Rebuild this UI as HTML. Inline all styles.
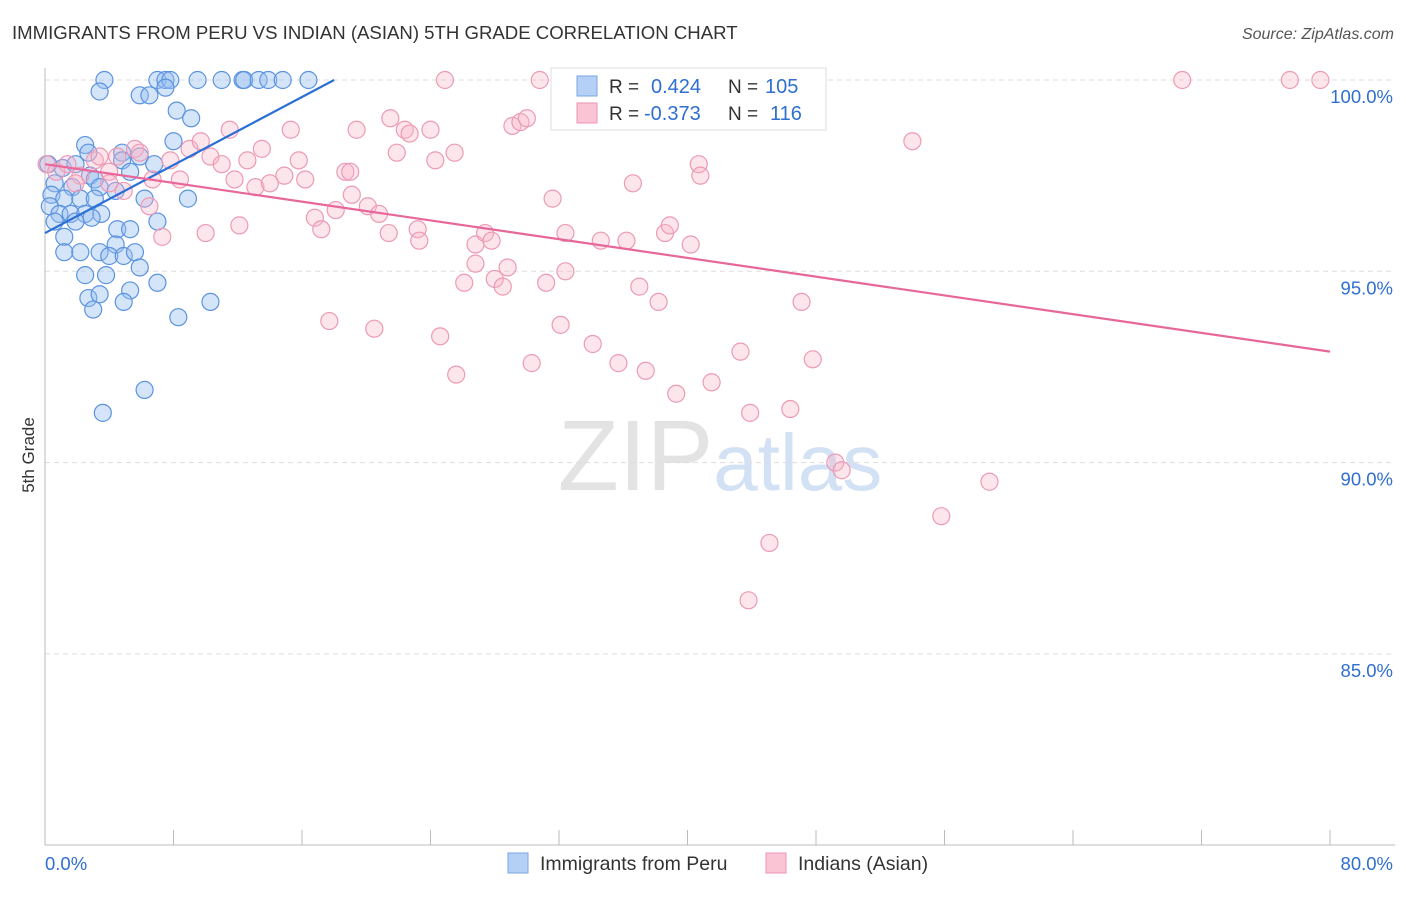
<!DOCTYPE html>
<html><head><meta charset="utf-8"><style>
body{margin:0;background:#fff;font-family:"Liberation Sans",sans-serif;}
svg text{font-family:"Liberation Sans",sans-serif;}
</style></head><body>
<svg id="chart" width="1406" height="892" xmlns="http://www.w3.org/2000/svg">
<text x="12" y="39" font-size="18.6" fill="#333">IMMIGRANTS FROM PERU VS INDIAN (ASIAN) 5TH GRADE CORRELATION CHART</text>
<text x="1394" y="39" font-size="16" fill="#555" text-anchor="end" font-style="italic">Source: ZipAtlas.com</text>
<text x="720" y="490" font-size="100" text-anchor="middle" fill="#ddd" opacity="0.8" font-family="Liberation Serif"><tspan>ZIP</tspan><tspan fill="#c8daf2" font-family="Liberation Sans" font-size="80">atlas</tspan></text>
<g id="grid"></g><g id="axes"></g><g id="pts"></g><g id="trend"></g>
<text transform="translate(34,455) rotate(-90)" font-size="17" fill="#333" text-anchor="middle">5th Grade</text>
<g>
<rect x="551" y="68" width="275" height="62" fill="#fff" stroke="#ddd"/>
<rect x="577" y="76" width="20" height="20" fill="#b5d0f5" stroke="#7aa6e6"/>
<rect x="577" y="103" width="20" height="20" fill="#fac4d5" stroke="#ee94b1"/>
<text x="609" y="93" font-size="19" fill="#333">R = </text><text x="651" y="93" font-size="20" fill="#2f6fd0">0.424</text>
<text x="728" y="93" font-size="19" fill="#333">N = </text><text x="765" y="93" font-size="20" fill="#2f6fd0">105</text>
<text x="609" y="120" font-size="19" fill="#333">R = </text><text x="644" y="120" font-size="20" fill="#2f6fd0">-0.373</text>
<text x="728" y="120" font-size="19" fill="#333">N = </text><text x="770" y="120" font-size="20" fill="#2f6fd0">116</text>
</g>
<g>
<rect x="508" y="853" width="20" height="20" fill="#b5d0f5" stroke="#7aa6e6"/>
<text x="540" y="870" font-size="19.5" fill="#333">Immigrants from Peru</text>
<rect x="766" y="853" width="20" height="20" fill="#fac4d5" stroke="#ee94b1"/>
<text x="798" y="870" font-size="19.5" fill="#333">Indians (Asian)</text>
</g>
</svg>
<script>
const yTicks=[100,95,90,85];
const yTickLabels=["100.0%","95.0%","90.0%","85.0%"];
const xTickLabels=["0.0%","80.0%"];
const blueX=[3.7,3.4,7.0,7.5,7.8,9.5,11.0,12.3,12.4,13.3,13.9,14.8,16.4,5.9,6.5,7.5,8.2,9.1,8.0,2.5,2.7,4.8,5.9,4.8,6.8,0.2,1.1,1.9,2.8,3.1,5.3,0.6,1.7,3.4,4.4,0.4,1.2,2.2,3.1,6.2,8.9,0.3,0.9,1.6,2.5,3.5,0.6,1.9,2.9,7.0,1.2,4.5,5.3,4.4,1.2,2.2,3.4,4.0,4.9,5.6,5.9,2.5,3.8,7.0,2.7,3.4,5.3,4.9,3.0,10.3,8.3,6.2,3.6];
const blueY=[100,99.7,100,100,100,100,100,100,100,100,100,100,100,99.6,99.6,99.8,99.2,99.0,98.4,98.3,98.1,98.1,98.0,97.9,97.8,97.8,97.7,97.8,97.5,97.4,97.6,97.3,97.2,97.2,97.1,97.0,96.9,96.9,96.9,96.9,96.9,96.7,96.5,96.5,96.5,96.5,96.3,96.3,96.4,96.3,95.9,96.1,96.1,95.7,95.5,95.5,95.5,95.4,95.4,95.5,95.1,94.9,94.9,94.7,94.3,94.4,94.5,94.2,94.0,94.2,93.8,91.9,91.3];
const pinkX=[0.1,0.7,1.4,2.2,3.1,4.0,5.6,5.9,4.5,3.4,1.9,4.0,4.9,6.7,8.4,7.8,9.0,9.7,10.3,11.5,11.0,11.8,12.6,13.5,13.1,14.0,15.3,15.8,16.2,14.9,6.5,7.3,10.0,12.1,16.8,17.2,18.1,18.7,19.0,19.1,19.4,20.1,20.8,21.5,21.9,22.4,22.7,21.4,23.2,23.3,24.0,24.3,25.5,24.9,30.8,29.1,29.6,30.0,31.6,32.4,34.6,36.2,36.6,38.6,38.9,40.2,40.7,40.8,26.8,27.4,27.8,26.8,26.1,28.0,28.5,28.8,31.2,32.4,37.0,38.2,47.1,17.7,20.5,24.6,25.6,30.3,32.1,34.1,35.7,37.4,39.3,41.5,43.3,43.9,46.4,47.8,49.2,49.6,58.8,55.8,45.1,43.8,54.0,70.8,77.5,79.4,46.7];
const pinkY=[97.8,97.6,97.8,97.5,97.9,97.6,98.2,98.1,98.0,98.0,97.3,97.3,97.1,97.4,97.4,97.9,98.2,98.4,98.0,98.7,97.8,97.4,97.9,98.2,97.2,97.3,98.7,97.9,97.4,97.5,96.7,95.9,96.0,96.2,96.4,96.1,96.6,97.6,97.6,97.0,98.7,96.7,96.5,99.0,98.1,98.7,98.6,96.0,96.1,95.8,98.7,97.9,98.1,100,100,98.8,98.9,99.0,96.9,96.0,95.8,95.8,97.3,96.0,96.2,95.7,97.8,97.5,95.7,96.0,95.8,95.2,94.7,94.8,94.6,95.1,94.7,95.0,94.6,94.2,94.2,93.7,93.5,93.3,92.3,92.6,93.6,93.1,92.6,92.4,91.8,92.1,92.9,91.3,91.4,92.7,90.0,89.8,89.5,88.6,87.9,86.4,98.4,100,100,100,100];
const blueTrend=[[0,96.0],[18.0,100]];
const pinkTrend=[[0,97.8],[80,92.9]];
const NS="http://www.w3.org/2000/svg";
const X0=45,X1=1330,Y0=80,PX5=191.3;
function xs(v){return X0+(v/80)*(X1-X0);}
function ys(v){return Y0+(100-v)/5*PX5;}
function mk(tag,attrs,parent){const e=document.createElementNS(NS,tag);for(const k in attrs)e.setAttribute(k,attrs[k]);document.getElementById(parent).appendChild(e);return e;}
yTicks.forEach((t,i)=>{
 const l=mk('line',{x1:X0,x2:1395,y1:ys(t),y2:ys(t),stroke:'#ddd','stroke-dasharray':'5,4'},'grid');
 
 
 const tx=mk('text',{x:1393,y:ys(t)+23,'font-size':18.5,fill:'#2f6fd0','text-anchor':'end'},'grid');
 tx.textContent=yTickLabels[i];
 
 
});
const ya=mk('line',{x1:X0,x2:X0,y1:68,y2:845,stroke:'#bbb'},'axes');


const xa=mk('line',{x1:X0,x2:1395,y1:845,y2:845,stroke:'#bbb'},'axes');


for(let i=1;i<=10;i++){const t=mk('line',{x1:xs(i*8),x2:xs(i*8),y1:830,y2:845,stroke:'#bbb'},'axes');
 
 }
[[0,'start',45],[80,'end',1393]].forEach((d,i)=>{const t=mk('text',{x:d[2],y:870,'font-size':18.5,fill:'#2f6fd0','text-anchor':d[1]},'axes');t.textContent=xTickLabels[i];
 
 });
blueX.forEach((v,i)=>{const c=mk('circle',{cx:xs(v),cy:ys(blueY[i]),r:8.5,fill:'rgba(150,190,240,0.4)',stroke:'#5b93e0','stroke-width':1.2},'pts');
 
 });
pinkX.forEach((v,i)=>{const c=mk('circle',{cx:xs(v),cy:ys(pinkY[i]),r:8.5,fill:'rgba(248,180,200,0.35)',stroke:'#ec9ab5','stroke-width':1.2},'pts');
 
 });
const bl=mk('line',{x1:xs(blueTrend[0][0]),y1:ys(blueTrend[0][1]),x2:xs(blueTrend[1][0]),y2:ys(blueTrend[1][1]),stroke:'#2a6fd6','stroke-width':2.2},'trend');


const pl=mk('line',{x1:xs(pinkTrend[0][0]),y1:ys(pinkTrend[0][1]),x2:xs(pinkTrend[1][0]),y2:ys(pinkTrend[1][1]),stroke:'#e8679a','stroke-width':2.2},'trend');


</script>
</body></html>
